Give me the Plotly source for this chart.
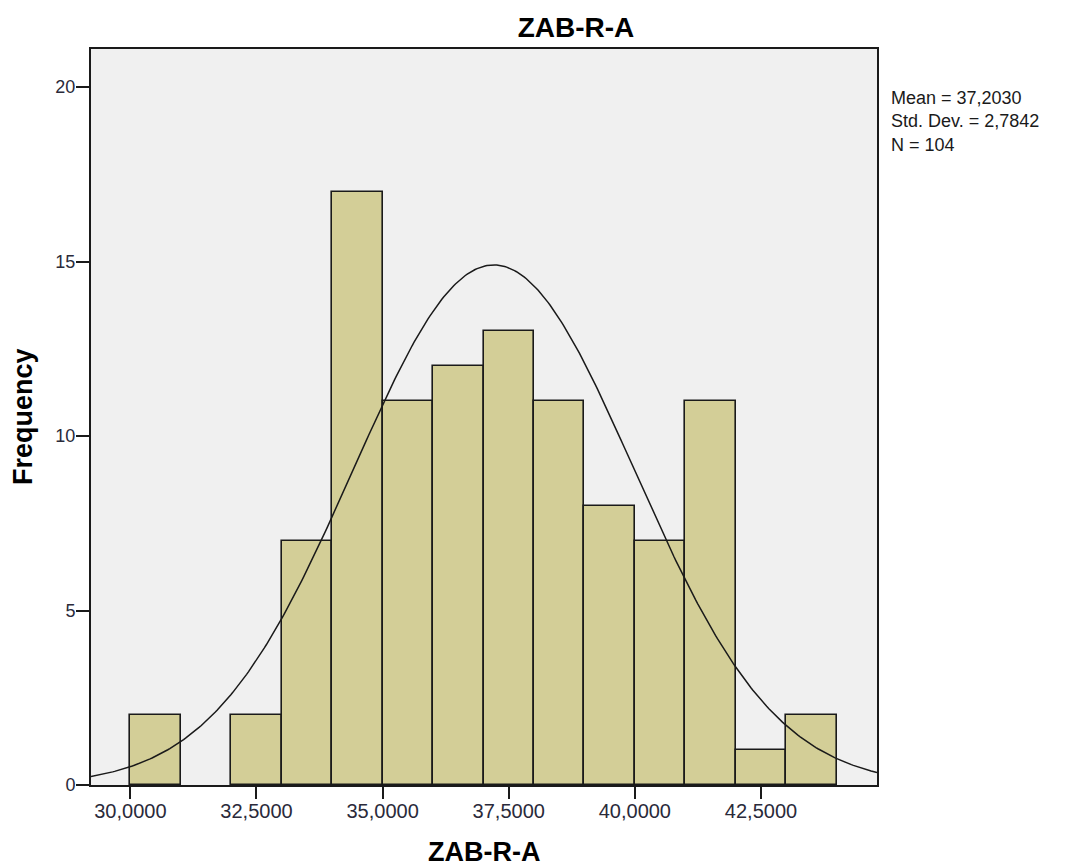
import numpy as np
import plotly.graph_objects as go

bin_left = [30, 31, 32, 33, 34, 35, 36, 37, 38, 39, 40, 41, 42, 43]
counts = [2, 0, 2, 7, 17, 11, 12, 13, 11, 8, 7, 11, 1, 2]
mean = 37.2030
std = 2.7842
n = 104
bin_width = 1.0
x_ticks = [30.0, 32.5, 35.0, 37.5, 40.0, 42.5]
x_tick_labels = ["30,0000", "32,5000", "35,0000", "37,5000", "40,0000", "42,5000"]
y_ticks = [0, 5, 10, 15, 20]
stats_lines = ["Mean = 37,2030", "Std. Dev. = 2,7842", "N = 104"]

x_range = [29.22, 44.80]
y_range = [0, 21.09]

# figure geometry (the page adds an 8px body margin)
W, H = 1060, 859
L, R, T, B = 83, 191, 41, 82
PW, PH = W - L - R, H - T - B

centers = [b + bin_width / 2 for b in bin_left]
bx = [c for c, v in zip(centers, counts) if v > 0]
by = [v for v in counts if v > 0]

fig = go.Figure()
fig.add_trace(go.Bar(
    x=bx, y=by, width=bin_width,
    marker=dict(color="#D3CE97", line=dict(color="#1a1a1a", width=1.6)),
    showlegend=False, hoverinfo="x+y",
))

xs = np.linspace(x_range[0], x_range[1], 400)
ys = n * bin_width / (std * np.sqrt(2 * np.pi)) * np.exp(-0.5 * ((xs - mean) / std) ** 2)
fig.add_trace(go.Scatter(
    x=xs, y=ys, mode="lines",
    line=dict(color="#1a1a1a", width=1.5),
    showlegend=False, hoverinfo="skip",
))

font_family = "Liberation Sans, Arial, sans-serif"


def px_x(fx):
    return (fx - L) / PW


def px_y(fy):
    return 1 - (fy - T) / PH


annotations = [
    dict(text="<b>ZAB-R-A</b>", xref="paper", yref="paper",
         x=0.5, y=px_y(844), xanchor="center", yanchor="middle", showarrow=False,
         font=dict(size=27, family=font_family, color="black")),
    dict(text="<b>Frequency</b>", xref="paper", yref="paper", textangle=-90,
         x=px_x(15), y=0.5, xanchor="center", yanchor="middle", showarrow=False,
         font=dict(size=27, family=font_family, color="black")),
    dict(text="<br>".join(stats_lines), xref="paper", yref="paper",
         x=px_x(881), y=px_y(78), xanchor="left", yanchor="top",
         align="left", showarrow=False,
         font=dict(size=18, family=font_family, color="#1a1a1a")),
]

fig.update_layout(
    width=W, height=H,
    margin=dict(l=L, r=R, t=T, b=B),
    paper_bgcolor="white",
    plot_bgcolor="#F0F0F0",
    bargap=0,
    font=dict(family=font_family, size=18, color="#1a1a1a"),
    title=dict(text="<b>ZAB-R-A</b>", x=568 / W, xanchor="center",
               y=1 - 19 / H, yanchor="middle",
               font=dict(size=28, family=font_family, color="black")),
    xaxis=dict(
        range=x_range, tickvals=x_ticks, ticktext=x_tick_labels,
        showgrid=False, zeroline=False,
        showline=True, linecolor="#1a1a1a", linewidth=2, mirror=True,
        ticks="outside", ticklen=12, tickwidth=1.5, tickcolor="#1a1a1a",
        ticklabelstandoff=-5,
        tickfont=dict(size=20, family=font_family, color="#2a2a3a"),
    ),
    yaxis=dict(
        range=y_range, tickvals=y_ticks,
        showgrid=False, zeroline=False,
        showline=True, linecolor="#1a1a1a", linewidth=2, mirror=True,
        ticks="outside", ticklen=13, tickwidth=1.5, tickcolor="#1a1a1a",
        ticklabelstandoff=-3,
        tickfont=dict(size=18, family=font_family, color="#2a2a3a"),
    ),
    annotations=annotations,
)

fig.write_html("out.html")
